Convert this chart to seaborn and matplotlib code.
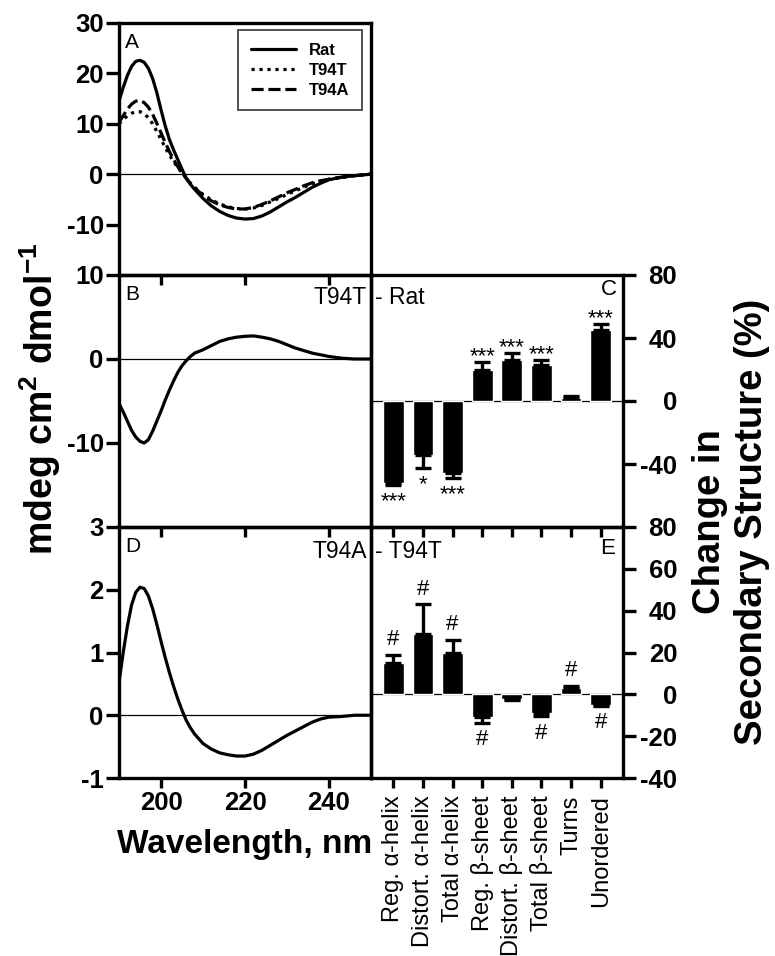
import numpy as np
import pandas as pd
import matplotlib
matplotlib.use("Agg")
import matplotlib.pyplot as plt
import seaborn as sns

# CD spectra (nm / mdeg cm2 dmol-1)
wavelength = [190, 191, 192, 193, 194, 195, 196, 197, 198, 199, 200, 201, 202, 203, 204, 205, 206, 207, 208,
              210, 212, 214, 216, 218, 220, 222, 224, 226, 228, 230, 232, 234, 236, 238, 240, 243, 246, 250]
rat = [14.5, 17.2, 19.6, 21.4, 22.4, 22.6, 22.2, 21.0, 19.0, 16.2, 12.8, 9.6, 6.9, 4.8, 2.9, 1.0, -0.8, -2.0, -3.0,
       -4.8, -6.3, -7.4, -8.2, -8.7, -8.9, -8.8, -8.3, -7.5, -6.5, -5.5, -4.6, -3.6, -2.6, -1.8, -1.1, -0.6, -0.3, 0.0]
t94t = [10.0, 10.8, 11.6, 12.1, 12.4, 12.4, 12.0, 11.2, 10.0, 8.5, 6.9, 5.3, 3.8, 2.5, 1.3, 0.3, -0.8, -1.8, -2.6,
        -4.0, -5.1, -5.9, -6.5, -6.8, -6.9, -6.7, -6.2, -5.5, -4.8, -4.0, -3.3, -2.6, -1.9, -1.4, -1.0, -0.6, -0.3, 0.0]
t94a = [10.3, 11.6, 12.9, 13.9, 14.5, 14.6, 14.2, 13.3, 11.9, 10.1, 8.2, 6.3, 4.5, 2.9, 1.5, 0.3, -0.8, -1.8, -2.7,
        -4.2, -5.3, -6.1, -6.6, -6.9, -6.9, -6.6, -6.0, -5.3, -4.5, -3.7, -3.0, -2.3, -1.7, -1.3, -1.0, -0.6, -0.3, 0.0]
# difference spectra
diff_t94t_rat = [-5.3, -6.3, -7.4, -8.5, -9.3, -9.8, -10.0, -9.6, -8.6, -7.4, -6.2, -4.9, -3.7, -2.6, -1.6, -0.8, -0.2, 0.3, 0.7,
                 1.1, 1.6, 2.1, 2.4, 2.6, 2.7, 2.75, 2.6, 2.4, 2.1, 1.7, 1.3, 1.0, 0.7, 0.5, 0.3, 0.1, 0.0, 0.0]
diff_t94a_t94t = [0.52, 1.0, 1.42, 1.76, 1.96, 2.04, 2.02, 1.9, 1.7, 1.45, 1.18, 0.92, 0.68, 0.46, 0.26, 0.08, -0.08, -0.2, -0.3,
                  -0.45, -0.54, -0.6, -0.63, -0.65, -0.65, -0.62, -0.56, -0.48, -0.4, -0.32, -0.25, -0.18, -0.11, -0.06, -0.03, -0.02, 0.0, 0.0]

# secondary structure changes (%)
categories = ["Reg. α-helix", "Distort. α-helix", "Total α-helix", "Reg. β-sheet",
              "Distort. β-sheet", "Total β-sheet", "Turns", "Unordered"]
c_change = [-52, -34, -46, 20, 26, 23, 2, 45]
c_err = [1.5, 8.5, 3, 5, 4.5, 3, 1, 4]
c_marks = ["***", "*", "***", "***", "***", "***", "", "***"]
e_change = [15, 29, 20, -11, -2, -9, 3, -5]
e_err = [4, 14, 6, 2.5, 0.5, 1.5, 1, 0.5]
e_marks = ["#", "#", "#", "#", "", "#", "#", "#"]

sns.set_style("ticks")
plt.rcParams['font.family'] = ['Liberation Sans', 'DejaVu Sans']
plt.rcParams['font.weight'] = 'bold'
plt.rcParams['text.color'] = 'black'
plt.rcParams['axes.labelcolor'] = 'black'
plt.rcParams['xtick.color'] = 'black'
plt.rcParams['ytick.color'] = 'black'
plt.rcParams['axes.unicode_minus'] = False
plt.rcParams['mathtext.fontset'] = 'custom'
plt.rcParams['mathtext.bf'] = 'Liberation Sans:bold'
plt.rcParams['mathtext.rm'] = 'Liberation Sans:bold'
plt.rcParams['mathtext.default'] = 'bf'

fig = plt.figure(figsize=(7.75, 9.56), dpi=100)
W, H = 775, 956


def box(x0, y0, x1, y1):
    return [x0 / W, 1 - y1 / H, (x1 - x0) / W, (y1 - y0) / H]


ax_a = fig.add_axes(box(119, 23, 371, 275))
ax_b = fig.add_axes(box(119, 275, 371, 527))
ax_d = fig.add_axes(box(119, 527, 371, 778))
ax_c = fig.add_axes(box(371, 275, 623, 527))
ax_e = fig.add_axes(box(371, 527, 623, 778))

lw = 2.3
# Panel A: spectra
sns.lineplot(x=wavelength, y=rat, ax=ax_a, color='black', lw=lw, label='Rat')
sns.lineplot(x=wavelength, y=t94t, ax=ax_a, color='black', lw=lw, linestyle=(0, (1, 1.5)), label='T94T')
sns.lineplot(x=wavelength, y=t94a, ax=ax_a, color='black', lw=lw, linestyle=(0, (3.8, 1.5)), label='T94A')
# Panel B, D: difference spectra
sns.lineplot(x=wavelength, y=diff_t94t_rat, ax=ax_b, color='black', lw=lw)
sns.lineplot(x=wavelength, y=diff_t94a_t94t, ax=ax_d, color='black', lw=lw)

leg = ax_a.legend(loc='upper right', bbox_to_anchor=(0.964, 0.972), frameon=True, fancybox=False,
                  edgecolor='black', fontsize=12, handlelength=2.7, labelspacing=0.3,
                  borderpad=0.75, handletextpad=0.8, borderaxespad=0)
leg.get_frame().set_linewidth(1.2)

for ax, lim, ticks in [(ax_a, (-20, 30), [-10, 0, 10, 20, 30]),
                       (ax_b, (-20, 10), [-10, 0, 10]),
                       (ax_d, (-1, 3), [-1, 0, 1, 2, 3])]:
    ax.set_xlim(190, 250)
    ax.set_ylim(*lim)
    ax.set_yticks(ticks)
    ax.set_xticks([200, 220, 240])
    ax.axhline(0, color='black', lw=0.9, zorder=0.5)
    ax.tick_params(axis='y', length=9.5, width=2.4, pad=1.5, labelsize=18.5)
    ax.tick_params(axis='x', length=7.5, width=2.4, pad=2, labelsize=18.5)
    ax.set_xlabel("")
    ax.set_ylabel("")
ax_a.tick_params(axis='x', labelbottom=False)
ax_b.tick_params(axis='x', labelbottom=False)

# Panels C, E: bar charts of secondary structure change
for ax, vals, errs, marks, lim, ticks in [(ax_c, c_change, c_err, c_marks, (-80, 80), [-40, 0, 40, 80]),
                                          (ax_e, e_change, e_err, e_marks, (-40, 80), [-40, -20, 0, 20, 40, 60, 80])]:
    sns.barplot(x=categories, y=vals, color='black', saturation=1, width=0.7, ax=ax, errorbar=None)
    pos = np.arange(len(categories))
    v = np.array(vals, dtype=float)
    e = np.array(errs, dtype=float)
    lower = np.where(v < 0, e, 0)
    upper = np.where(v > 0, e, 0)
    ax.errorbar(pos, v, yerr=[lower, upper], fmt='none', ecolor='black', elinewidth=2.4,
                capsize=6, capthick=2.4, zorder=3)
    for i, m in enumerate(marks):
        if not m:
            continue
        if v[i] > 0:
            off = -4 if m.startswith('*') else 3.3
            ax.annotate(m, (pos[i], v[i] + e[i]), xytext=(0, off), textcoords='offset points',
                        ha='center', va='bottom', fontsize=16, fontweight='normal')
        else:
            off = -4.5 if m.startswith('*') else -4.7
            ax.annotate(m, (pos[i], v[i] - e[i]), xytext=(0, off), textcoords='offset points',
                        ha='center', va='top', fontsize=16, fontweight='normal')
    ax.axhline(0, color='black', lw=0.9, zorder=0.5)
    ax.set_xlim(-0.75, len(categories) - 0.25)
    ax.set_ylim(*lim)
    ax.set_yticks(ticks)
    ax.yaxis.tick_right()
    ax.tick_params(axis='y', length=9.5, width=2.4, pad=29.5, labelsize=18.5,
                   left=False, right=True, labelleft=False, labelright=True)
    ax.tick_params(axis='x', length=7.5, width=2.4, pad=5, labelsize=13.5)
    ax.set_xlabel("")
    ax.set_ylabel("")
    for t in ax.yaxis.get_major_ticks():
        t.label2.set_horizontalalignment('right')

ax_c.tick_params(axis='x', labelbottom=False)
ax_e.set_xticks(range(len(categories)))
ax_e.set_xticklabels(categories, rotation=90, fontweight='normal', fontsize=17)

for ax in [ax_a, ax_b, ax_d, ax_c, ax_e]:
    ax.set_facecolor('none')
    for s in ax.spines.values():
        s.set_visible(True)
        s.set_linewidth(2.4)
        s.set_color('black')

# panel letters
ax_a.text(0.024, 0.96, "A", transform=ax_a.transAxes, ha='left', va='top', fontsize=15, fontweight='normal')
ax_b.text(0.024, 0.96, "B", transform=ax_b.transAxes, ha='left', va='top', fontsize=15, fontweight='normal')
ax_d.text(0.024, 0.96, "D", transform=ax_d.transAxes, ha='left', va='top', fontsize=15, fontweight='normal')
ax_c.text(0.976, 0.986, "C", transform=ax_c.transAxes, ha='right', va='top', fontsize=16, fontweight='normal')
ax_e.text(0.968, 0.955, "E", transform=ax_e.transAxes, ha='right', va='top', fontsize=16, fontweight='normal')

# comparison labels straddling the panel border
fig.text(367 / W, 1 - 297 / H, "T94T", ha='right', va='center', fontsize=16.5, fontweight='normal')
fig.text(375 / W, 1 - 297 / H, "- Rat", ha='left', va='center', fontsize=16.5, fontweight='normal')
fig.text(367 / W, 1 - 552 / H, "T94A", ha='right', va='center', fontsize=16.5, fontweight='normal')
fig.text(375 / W, 1 - 552 / H, "- T94T", ha='left', va='center', fontsize=16.5, fontweight='normal')

# axis titles
fig.text(40 / W, 1 - 399 / H, r"mdeg cm$^{2}$ dmol$^{-1}$", rotation=90, ha='center', va='center',
         fontsize=27, fontweight='bold')
fig.text(245 / W, 1 - 853 / H, "Wavelength, nm", ha='center', va='baseline', fontsize=24, fontweight='bold')
fig.text(731 / W, 1 - 522 / H, "Change in\nSecondary Structure (%)", rotation=90, ha='center', va='center',
         multialignment='center', fontsize=27.5, fontweight='bold')

fig.savefig("out.png", dpi=100, facecolor='white')
